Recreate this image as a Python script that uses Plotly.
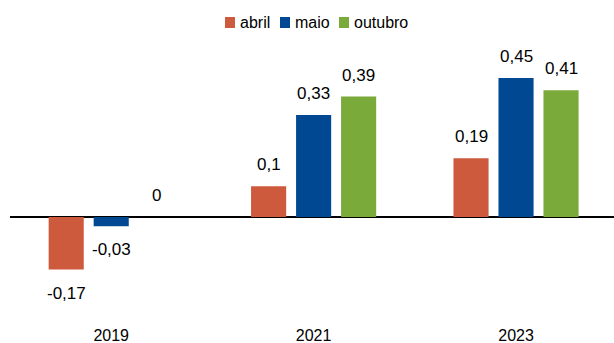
import plotly.graph_objects as go

years = ["2019", "2021", "2023"]
abril = [-0.17, 0.1, 0.19]
maio = [-0.03, 0.33, 0.45]
outubro = [0, 0.39, 0.41]

series = [("abril", abril, "#CD5A3C"), ("maio", maio, "#004891"), ("outubro", outubro, "#7AAA3A")]
FONT = "Liberation Sans, Arial, sans-serif"

L, R, T, B, W, H = 10, 0, 40, 19, 614, 343
PW, PH = W - L - R, H - T - B
YR = [-0.346, 0.573]
XR = [-0.5, 2.484]
BARGAP, GROUPGAP = 0.333, 0.22


def fmt(v):
    return ("%g" % v).replace(".", ",")


def px_x(px):
    return (px - L) / PW


def px_y(py):
    return (H - B - py) / PH


fig = go.Figure()
cat_px = PW / (XR[1] - XR[0])
slot_px = cat_px * (1 - BARGAP) / len(series)
for i, (name, vals, col) in enumerate(series):
    fig.add_trace(go.Bar(
        x=years, y=vals, name=name, marker_color=col, marker_line_width=0,
        showlegend=False,
    ))
    off = (i - (len(series) - 1) / 2) * slot_px
    for j, v in enumerate(vals):
        neg = v < 0
        fig.add_annotation(
            x=j, y=v, xref="x", yref="y", text=fmt(v), showarrow=False,
            xshift=off, yshift=-12 if neg else 10,
            yanchor="top" if neg else "bottom", xanchor="center",
            font=dict(size=17, color="#000000", family=FONT),
        )

# custom legend
leg_x = [225, 280, 339]
for (name, vals, col), lx in zip(series, leg_x):
    fig.add_shape(type="rect", xref="paper", yref="paper",
                  x0=px_x(lx), x1=px_x(lx + 10), y0=px_y(28), y1=px_y(17),
                  fillcolor=col, line_width=0)
    fig.add_annotation(x=px_x(lx + 13), y=px_y(22.5), xref="paper", yref="paper",
                       text=name, showarrow=False, xanchor="left", yanchor="middle",
                       font=dict(size=16, color="#000000", family=FONT))

fig.update_layout(
    width=W, height=H,
    margin=dict(l=L, r=R, t=T, b=B, autoexpand=False),
    paper_bgcolor="white", plot_bgcolor="white",
    barmode="group", bargap=BARGAP, bargroupgap=GROUPGAP,
    font=dict(family=FONT, size=16, color="#000000"),
    showlegend=False,
    xaxis=dict(type="category", range=XR, showgrid=False, showline=False, ticks="",
               automargin=False, tickfont=dict(size=16, family=FONT)),
    yaxis=dict(range=YR, showgrid=False, showticklabels=False, zeroline=True,
               automargin=False,
               zerolinecolor="#000000", zerolinewidth=1.5, showline=False),
)
fig.write_html("out.html")
